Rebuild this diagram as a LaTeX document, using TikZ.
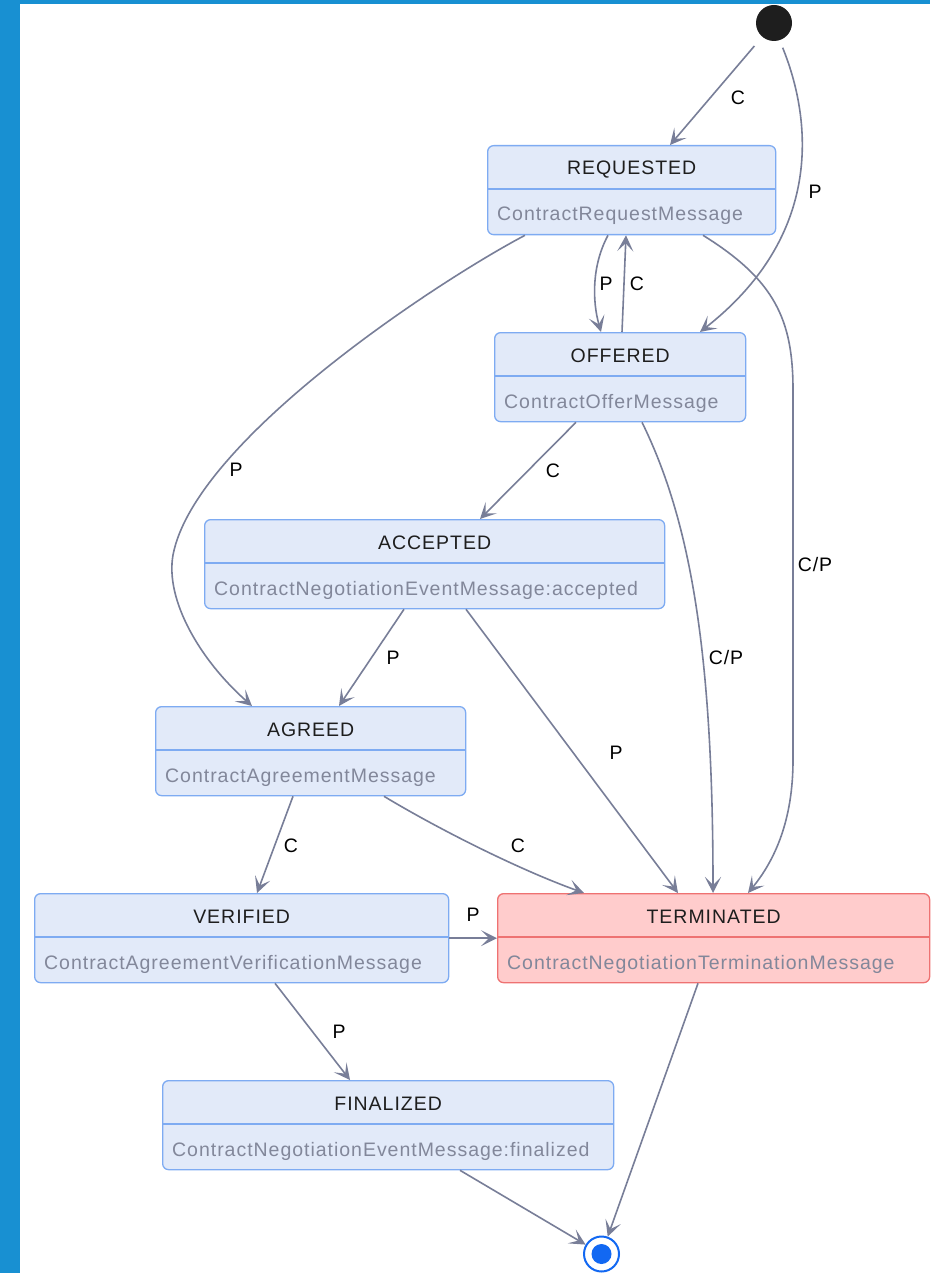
\documentclass[tikz,border=0pt]{standalone}
\usepackage{fontspec}
\setmainfont{Liberation Sans}
\newfontfamily\diagfont{Liberation Sans}[LetterSpace=5]
\usetikzlibrary{arrows.meta,calc}
\definecolor{frameblue}{HTML}{1890D2}
\definecolor{boxfill}{HTML}{E2EAF9}
\definecolor{boxline}{HTML}{7EABF2}
\definecolor{termfill}{HTML}{FFCCCC}
\definecolor{termline}{HTML}{EE7272}
\definecolor{edgecol}{HTML}{787E98}
\definecolor{subcol}{HTML}{82879A}
\definecolor{titlecol}{HTML}{1E1E1E}
\definecolor{endblue}{HTML}{1268F2}
\newcommand{\stbox}[7]{%
  \node[statebox, fill=#7fill, draw=#7line, minimum width=#4pt, anchor=north west] (#1) at (#2,#3) {};
  \draw[#7line, line width=1.3pt] ([yshift=-44pt]#1.north west) -- ([yshift=-44pt]#1.north east);
  \node[titletext, anchor=base] (#1-t) at ([yshift=-30pt]#1.north) {#5};
  \node[subtext, anchor=base west] (#1-s) at ([xshift=10pt,yshift=-76pt]#1.north west) {#6};
}
\begin{document}
\begin{tikzpicture}[x=1pt,y=-1pt,
  statebox/.style={rectangle, rounded corners=6pt, line width=1.3pt, minimum height=89pt, inner sep=0pt},
  titletext/.style={inner sep=0pt, text=titlecol, font=\diagfont\fontsize{19.5}{23}\selectfont},
  subtext/.style={inner sep=0pt, text=subcol, font=\diagfont\fontsize{19.5}{23}\selectfont},
  lbl/.style={inner sep=0pt, text=black, font=\diagfont\fontsize{19.5}{23}\selectfont},
  tr/.style={draw=edgecol, line width=1.6pt, -{Stealth[length=16pt,width=16pt,inset=8pt]}}
]
\useasboundingbox (0,0) rectangle (930,1273);
\fill[white] (0,0) rectangle (930,1273);
\fill[frameblue] (0,0) rectangle (20,1273);
\fill[frameblue] (0,0) rectangle (930,4);

% states
\node[circle, fill=titlecol, minimum size=36pt, inner sep=0pt] (start) at (774,23) {};
\stbox{req}{487}{145}{288}{REQUESTED}{ContractRequestMessage}{box}
\stbox{off}{494}{332}{251}{OFFERED}{ContractOfferMessage}{box}
\stbox{acc}{204}{519}{460}{ACCEPTED}{ContractNegotiationEventMessage:accepted}{box}
\stbox{agr}{155}{706}{310}{AGREED}{ContractAgreementMessage}{box}
\stbox{ver}{34}{893}{414}{VERIFIED}{ContractAgreementVerificationMessage}{box}
\stbox{ter}{497}{893}{432}{TERMINATED}{ContractNegotiationTerminationMessage}{term}
\stbox{fin}{162}{1080}{451}{FINALIZED}{ContractNegotiationEventMessage:finalized}{box}
\node[circle, draw=endblue, line width=2pt, fill=white, minimum size=35pt, inner sep=0pt] (end) at (601.5,1254) {};
\node[circle, fill=endblue, minimum size=20pt, inner sep=0pt] (endin) at (end.center) {};

% transitions
\draw[tr, shorten <=12pt] (start) -- ([xshift=183pt]req.north west);
\draw[tr, shorten <=8pt] (start.-72) .. controls (808,110) and (830,230) .. ([xshift=206pt]off.north west);
\draw[tr] ([xshift=121pt]req.south west) .. controls (592,265) and (592,300) .. ([xshift=107pt]off.north west);
\draw[tr] ([xshift=128pt]off.north west) -- ([xshift=139pt]req.south west);
\draw[tr] ([xshift=38pt]req.south west) .. controls (440,280) and (195,440) .. (173,555) .. controls (165,600) and (200,660) .. ([xshift=97pt]agr.north west);
\draw[tr] ([xshift=216pt]req.south west) .. controls (775,280) and (793,320) .. (793,390) -- (793,760) .. controls (793,820) and (775,860) .. ([xshift=251pt]ter.north west);
\draw[tr] ([xshift=82pt]off.south west) -- ([xshift=276pt]acc.north west);
\draw[tr] ([xshift=148pt]off.south west) .. controls (690,520) and (713,650) .. ([xshift=216pt]ter.north west);
\draw[tr] ([xshift=200pt]acc.south west) -- ([xshift=184pt]agr.north west);
\draw[tr] ([xshift=262pt]acc.south west) -- ([xshift=181pt]ter.north west);
\draw[tr] ([xshift=138pt]agr.south west) -- ([xshift=223pt]ver.north west);
\draw[tr] ([xshift=229pt]agr.south west) .. controls (440,830) and (520,870) .. ([xshift=87pt]ter.north west);
\draw[tr] (ver.east) -- (ter.west);
\draw[tr] ([xshift=241pt]ver.south west) -- ([xshift=188pt]fin.north west);
\draw[tr] ([xshift=298pt]fin.south west) -- (end);
\draw[tr] ([xshift=201pt]ter.south west) -- (end);

% labels
\node[lbl] (l1) at (738,98) {C};
\node[lbl] (l2) at (815,192) {P};
\node[lbl] (l3) at (606,284) {P};
\node[lbl] (l4) at (637,284) {C};
\node[lbl] (l5) at (236,470) {P};
\node[lbl] (l6) at (815,565) {C/P};
\node[lbl] (l7) at (553,471) {C};
\node[lbl] (l8) at (726,658) {C/P};
\node[lbl] (l9) at (393,658) {P};
\node[lbl] (l10) at (616,753) {P};
\node[lbl] (l11) at (291,846) {C};
\node[lbl] (l12) at (518,846) {C};
\node[lbl] (l13) at (473,915) {P};
\node[lbl] (l14) at (339,1032) {P};
\end{tikzpicture}
\end{document}
